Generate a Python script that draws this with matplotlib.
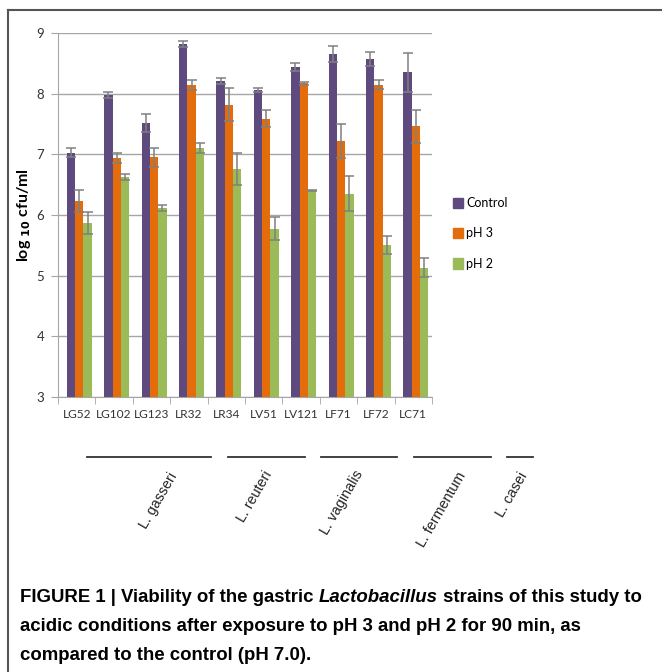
import numpy as np
import matplotlib.pyplot as plt
from matplotlib.patches import Rectangle
from matplotlib.lines import Line2D

strains = ["LG52", "LG102", "LG123", "LR32", "LR34", "LV51", "LV121", "LF71", "LF72", "LC71"]
control = [7.03, 7.98, 7.52, 8.82, 8.21, 8.06, 8.44, 8.66, 8.57, 8.35]
control_err = [0.07, 0.05, 0.15, 0.05, 0.05, 0.04, 0.07, 0.13, 0.11, 0.32]
ph3 = [6.23, 6.94, 6.95, 8.14, 7.82, 7.59, 8.17, 7.22, 8.15, 7.46]
ph3_err = [0.18, 0.08, 0.16, 0.08, 0.27, 0.14, 0.02, 0.28, 0.07, 0.27]
ph2 = [5.87, 6.63, 6.12, 7.10, 6.76, 5.77, 6.41, 6.35, 5.50, 5.13]
ph2_err = [0.18, 0.05, 0.05, 0.08, 0.27, 0.19, 0.01, 0.29, 0.15, 0.16]

species = ["L. gasseri", "L. reuteri", "L. vaginalis", "L. fermentum", "L. casei"]
# species underline spans and label anchors in figure pixels (hand drawn in original)
sp_lines = [(87, 211), (228, 305), (321, 397), (414, 491), (507, 533)]
sp_label = [(180, 470), (275, 468), (366, 468), (469, 470), (530, 470)]

colors = ["#5f4a80", "#e46c0a", "#9bbb59"]
names = ["Control", "pH 3", "pH 2"]

W, H = 662, 672
fig = plt.figure(figsize=(W / 100, H / 100), dpi=100)
ax = fig.add_axes([58 / W, 1 - 397 / H, (432 - 58) / W, (397 - 33) / H])

x = np.arange(len(strains))
bw = 0.223
for k, (vals, errs) in enumerate([(control, control_err), (ph3, ph3_err), (ph2, ph2_err)]):
    ax.bar(x + (k - 1) * bw + 0.07, np.array(vals) - 3, bw, bottom=3, color=colors[k],
           yerr=errs, ecolor="#808080", capsize=3.8, error_kw=dict(elinewidth=1.1, capthick=1.1),
           zorder=3)

ax.set_ylim(3, 9)
ax.set_xlim(-0.5, len(strains) - 0.5)
ax.set_yticks(range(3, 10))
ax.yaxis.grid(True, color="#a6a6a6", lw=1)
ax.set_axisbelow(True)
for s in ["top", "right"]:
    ax.spines[s].set_visible(False)
ax.spines["left"].set_color("#a6a6a6")
ax.spines["bottom"].set_color("#a6a6a6")
ax.set_xticks(x)
ax.set_xticklabels(strains, family="Lato", fontsize=8.6, color="#333333")
ax.tick_params(axis="x", length=0, pad=9)
ax.set_xticks(np.arange(-0.5, len(strains)), minor=True)
ax.tick_params(axis="x", which="minor", length=5, color="#a6a6a6")
ax.tick_params(axis="y", length=5, color="#a6a6a6", labelsize=9.5, labelcolor="#333333", pad=5)
for t in ax.get_yticklabels():
    t.set_family("Lato")
ax.set_ylabel(r"log $_{\mathbf{10}}$ cfu/ml", fontsize=11.5, fontweight="bold", family="Lato")
ax.yaxis.set_label_coords(-0.068, 0.5)

handles = [Rectangle((0, 0), 1, 1, color=c) for c in colors]
fig.legend(handles, names, loc="upper left", bbox_to_anchor=(442 / W, 1 - 186 / H),
           frameon=False, prop=dict(family="Lato", size=9), handlelength=0.75, handleheight=0.95,
           handletextpad=0.3, labelspacing=1.45)

# species underlines and labels
for (x0, x1), (lx, ly), name in zip(sp_lines, sp_label, species):
    fig.add_artist(Line2D([x0 / W, x1 / W], [1 - 457 / H, 1 - 457 / H], color="#333333", lw=1.3))
    fig.text(lx / W, 1 - ly / H, name, rotation=60, ha="right", va="top",
             family="Liberation Sans", fontsize=10.3, color="#222222")

# frame of the figure panel
fig.add_artist(Line2D([8 / W, 8 / W], [0, 1 - 10 / H], color="#555555", lw=1.5))
fig.add_artist(Line2D([8 / W, 1], [1 - 10 / H, 1 - 10 / H], color="#555555", lw=1.5))

# caption, first line built piecewise for the italic genus name
cap_font = dict(fontsize=13.4, fontweight="bold", family=["Liberation Sans", "DejaVu Sans"], va="top")
fig.canvas.draw()
r = fig.canvas.get_renderer()
xpos = 20
for txt, st in [("FIGURE 1 | Viability of the gastric ", "normal"), ("Lactobacillus", "italic"),
                (" strains of this study to", "normal")]:
    tt = fig.text(xpos / W, 1 - 589 / H, txt, style=st, **cap_font)
    xpos += tt.get_window_extent(r).width
fig.text(20 / W, 1 - 618 / H, "acidic conditions after exposure to pH 3 and pH 2 for 90 min, as", **cap_font)
fig.text(20 / W, 1 - 647 / H, "compared to the control (pH 7.0).", **cap_font)

fig.savefig("out.png", dpi=100)
